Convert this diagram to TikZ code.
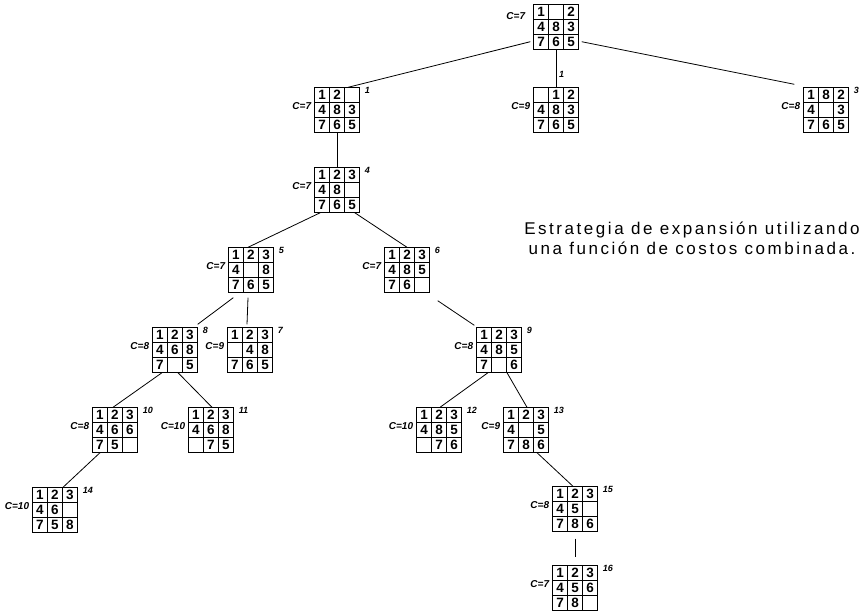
\documentclass[tikz,border=0pt]{standalone}
\usepackage{fontspec}
\setmainfont{Liberation Sans}
\newfontfamily\notefont[LetterSpace=15]{Liberation Sans}
\begin{document}
\begin{tikzpicture}[x=1pt,y=-1pt,
  board/.style={minimum width=45pt,minimum height=45pt,inner sep=0pt},
  cellrule/.style={line width=1pt,black},
  tile/.style={inner sep=0pt,font=\bfseries\fontsize{13.5}{13.5}\selectfont},
  cost/.style={inner sep=0pt,font=\bfseries\itshape\fontsize{10}{10}\selectfont},
  num/.style={inner sep=0pt,font=\bfseries\itshape\fontsize{9}{9}\selectfont},
  link/.style={line width=0.8pt,black}]
\useasboundingbox (0,0) rectangle (861,611);

% one 8-puzzle board: name, centre, nine tiles row by row
\newcommand\puzzle[3]{%
  \node[board] (#1) at (#2) {};
  \begin{scope}[shift={(#2)}]
    \draw[cellrule] (-22.5,-22.5) rectangle (22.5,22.5)
      (-7.5,-22.5) -- (-7.5,22.5) (7.5,-22.5) -- (7.5,22.5)
      (-22.5,-7.5) -- (22.5,-7.5) (-22.5,7.5) -- (22.5,7.5);
    \foreach \t [count=\i from 0] in {#3}
      \node[tile] at ({15*mod(\i,3)-15},{15*int(\i/3)-15}) {\t};
  \end{scope}}
\newcommand\costlabel[2]{\node[cost,anchor=east] at ([xshift=-3pt,yshift=4pt]#1.west) {#2};}
\newcommand\numlabel[2]{\node[num,anchor=west] at ([xshift=5pt,yshift=-3pt]#1.north east) {#2};}

\puzzle{root}{556,27}{1,{},2,4,8,3,7,6,5}
\puzzle{b1}{337,110}{1,2,{},4,8,3,7,6,5}
\puzzle{bm}{556,110}{{},1,2,4,8,3,7,6,5}
\puzzle{br}{826,110}{1,8,2,4,{},3,7,6,5}
\puzzle{b4}{337,190}{1,2,3,4,8,{},7,6,5}
\puzzle{b5}{251,270}{1,2,3,4,{},8,7,6,5}
\puzzle{b6}{407,270}{1,2,3,4,8,5,7,6,{}}
\puzzle{b8}{175,350}{1,2,3,4,6,8,7,{},5}
\puzzle{b7}{250,350}{1,2,3,{},4,8,7,6,5}
\puzzle{b9}{499,350}{1,2,3,4,8,5,7,{},6}
\puzzle{b10}{115,430}{1,2,3,4,6,6,7,5,{}}
\puzzle{b11}{211,430}{1,2,3,4,6,8,{},7,5}
\puzzle{b12}{439,430}{1,2,3,4,8,5,{},7,6}
\puzzle{b13}{526,430}{1,2,3,4,{},5,7,8,6}
\puzzle{b14}{55,510}{1,2,3,4,6,{},7,5,8}
\puzzle{b15}{575,509}{1,2,3,4,5,{},7,8,6}
\puzzle{b16}{575,588}{1,2,3,4,5,6,7,8,{}}

% cost of each state
\node[cost,anchor=east] at ([xshift=-8pt,yshift=11pt]root.west) {C=7};
\costlabel{b1}{C=7}
\costlabel{bm}{C=9}
\costlabel{br}{C=8}
\costlabel{b4}{C=7}
\costlabel{b5}{C=7}
\costlabel{b6}{C=7}
\costlabel{b8}{C=8}
\costlabel{b7}{C=9}
\costlabel{b9}{C=8}
\costlabel{b10}{C=8}
\costlabel{b11}{C=10}
\costlabel{b12}{C=10}
\costlabel{b13}{C=9}
\costlabel{b14}{C=10}
\costlabel{b15}{C=8}
\costlabel{b16}{C=7}

% expansion order
\numlabel{b1}{1}
\node[num,anchor=west] at ([xshift=3pt,yshift=13pt]bm.north) {1};
\numlabel{br}{3}
\numlabel{b4}{4}
\numlabel{b5}{5}
\numlabel{b6}{6}
\numlabel{b8}{8}
\numlabel{b7}{7}
\numlabel{b9}{9}
\numlabel{b10}{10}
\numlabel{b11}{11}
\numlabel{b12}{12}
\numlabel{b13}{13}
\numlabel{b14}{14}
\numlabel{b15}{15}
\numlabel{b16}{16}

% search tree edges
\draw[link] ([xshift=-3pt,yshift=8pt]root.south west) -- ([xshift=11pt]b1.north);
\draw[link] (root.south) -- (bm.north);
\draw[link] ([xshift=3pt,yshift=8pt]root.south east) -- ([xshift=-9pt,yshift=3pt]br.north west);
\draw[link] (b1.south) -- (b4.north);
\draw[link] ([xshift=6pt]b4.south west) -- ([xshift=-3pt]b5.north);
\draw[link] ([xshift=-5pt]b4.south east) -- (b6.north);
\draw[link] ([xshift=5pt,yshift=-5pt]b5.south west) -- ([yshift=3pt]b8.north east);
\draw[link] ([xshift=-3pt,yshift=-5pt]b5.south) -- ([xshift=-3pt,yshift=3pt]b7.north);
\draw[link] ([xshift=8pt,yshift=-8pt]b6.south east) -- ([xshift=-2pt,yshift=2pt]b9.north west);
\draw[link] ([xshift=-13pt]b8.south) -- ([xshift=-2pt]b10.north);
\draw[link] ([xshift=3pt]b8.south) -- ([xshift=1pt]b11.north);
\draw[link] ([xshift=-11pt]b9.south) -- ([xshift=1pt]b12.north);
\draw[link] ([xshift=8pt]b9.south) -- ([xshift=1pt]b13.north);
\draw[link] ([xshift=-15pt]b10.south) -- ([xshift=8pt]b14.north);
\draw[link] ([xshift=11pt]b13.south) -- ([xshift=-2pt]b15.north);
\draw[link] ([yshift=-7pt]b15.south) -- ([yshift=8pt]b16.north);

\node[align=center,inner sep=0pt,font=\notefont\fontsize{17}{20}\selectfont] (note) at (692,238)
  {Estrategia de expansión utilizando\\una función de costos combinada.};
\end{tikzpicture}
\end{document}
